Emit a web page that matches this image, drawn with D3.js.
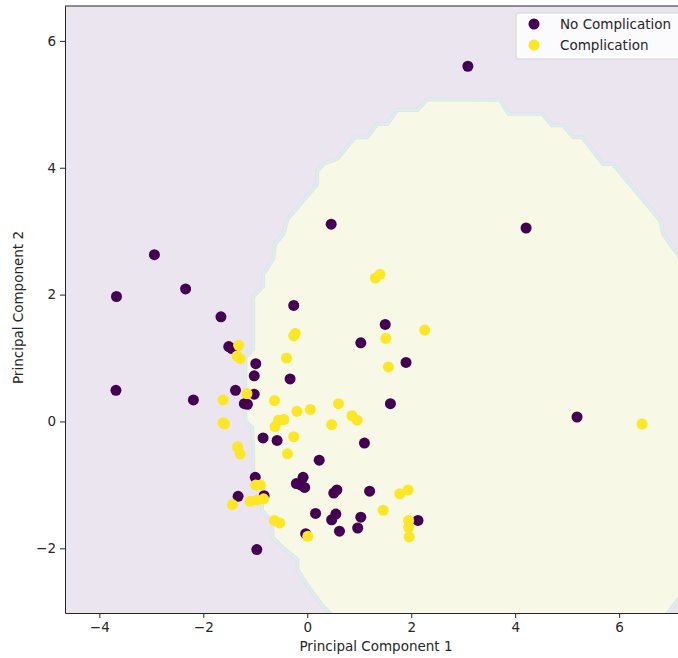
<!DOCTYPE html>
<html>
<head>
<meta charset="utf-8">
<script src="https://cdn.jsdelivr.net/npm/d3@7"></script>
<style>
  body { margin: 0; background: #fff; }
  svg { font-family: "DejaVu Sans", sans-serif; }
</style>
</head>
<body>
<svg id="chart" width="678" height="658"></svg>
<script>
// class 0 points (No Complication)
var noCompX = [3.09, 4.21, 0.46, -2.94, -3.67, -2.34, -1.66, -0.26, -3.68, -2.19,
  -1.51, -1.45, -0.99, -1.02, -1.38, -1.02, -1.21, -1.15, -0.33, -0.85,
  -0.58, 0.23, -0.08, -0.21, -0.13, -0.05, -1.00, -1.33, -0.83, -0.97,
  0.51, 0.57, 1.10, 1.20, 0.16, 0.47, 0.55, 0.62, 1.03, 0.97,
  -0.03, 2.13, 1.50, 1.03, 1.90, 1.60, 5.19];
var noCompY = [5.60, 3.05, 3.11, 2.63, 1.97, 2.09, 1.65, 1.83, 0.49, 0.34,
  1.18, 1.15, 0.91, 0.72, 0.49, 0.43, 0.28, 0.27, 0.67, -0.26,
  -0.30, -0.61, -0.88, -0.98, -1.00, -1.04, -0.88, -1.18, -1.17, -2.02,
  -1.13, -1.08, -0.34, -1.10, -1.45, -1.55, -1.46, -1.73, -1.51, -1.68,
  -1.77, -1.56, 1.53, 1.24, 0.93, 0.28, 0.07];

// class 1 points (Complication)
var compX = [1.31, 1.40, 2.26, 1.51, 1.56, 0.60, 0.86, 0.96, 1.78, 1.94,
  1.46, 1.95, 1.95, 1.96, 6.44, -0.26, -0.23, -1.32, -1.35, -1.29,
  -0.40, -1.16, -1.62, -0.63, -0.20, 0.06, -1.62, -1.59, -0.55, -0.45,
  -0.62, 0.47, -0.26, -1.34, -1.29, -0.38, -0.99, -0.90, -1.10, -0.97,
  -0.84, -1.44, -0.63, -0.53, 0.01];
var compY = [2.26, 2.32, 1.44, 1.31, 0.86, 0.28, 0.09, 0.02, -1.14, -1.08,
  -1.40, -1.56, -1.67, -1.82, -0.04, 1.35, 1.39, 1.20, 1.03, 0.99,
  1.00, 0.44, 0.34, 0.33, 0.16, 0.19, -0.02, -0.04, 0.02, 0.03,
  -0.08, -0.05, -0.24, -0.40, -0.51, -0.51, -1.00, -1.00, -1.26, -1.24,
  -1.22, -1.31, -1.56, -1.60, -1.81];

// decision region of class 1 (data units)
var regionX = [0.44, 0.31, 0.06, -0.10, -0.19, -0.19, -0.48, -0.67, -0.67, -0.87,
  -0.87, -1.04, -1.04, -1.06, -1.19, -1.19, -1.04, -1.04, -0.85, -0.85,
  -0.81, -0.65, -0.62, -0.46, -0.38, 0.19, 0.19, 0.31, 0.58, 0.92,
  1.15, 1.35, 1.54, 1.73, 2.12, 2.31, 3.71, 3.87, 4.52, 4.71,
  4.92, 5.12, 5.29, 5.69, 5.88, 6.79, 6.85, 7.13, 7.70, 7.70,
  6.94, 6.94, 0.44];
var regionY = [-3.02, -2.92, -2.65, -2.45, -2.34, -2.18, -1.98, -1.83, -1.59, -1.40,
  -1.04, -0.93, -0.46, -0.10, 0.01, 1.00, 1.14, 1.97, 2.13, 2.33,
  2.36, 2.57, 2.80, 2.95, 3.19, 3.74, 3.94, 4.06, 4.14, 4.48,
  4.48, 4.69, 4.69, 4.91, 4.91, 5.08, 5.07, 4.85, 4.85, 4.67,
  4.67, 4.48, 4.48, 4.06, 4.06, 3.17, 2.95, 2.63, 1.80, -2.20,
  -3.02, -3.40, -3.40];

var xTicks = [-4, -2, 0, 2, 4, 6];
var yTicks = [-2, 0, 2, 4, 6];
var seriesNames = ["No Complication", "Complication"];
var seriesColors = ["#440154", "#fde725"];

var svg = d3.select("#chart"),
    margin = {left: 65, top: 6},
    width = 629,
    height = 607,
    fontSize = "13.5px";

var x = d3.scaleLinear().domain([-4.66, 7.44]).range([0, width]);
var y = d3.scaleLinear().domain([-3.02, 6.55]).range([height, 0]);

var g = svg.append("g")
  .attr("transform", "translate(" + margin.left + "," + margin.top + ")");

g.append("clipPath").attr("id", "clip")
  .append("rect").attr("width", width).attr("height", height);

var plot = g.append("g").attr("clip-path", "url(#clip)");

plot.append("rect")
  .attr("width", width).attr("height", height)
  .attr("fill", "#ebe5ef");

var region = regionX.map(function(d, i) { return [d, regionY[i]]; });
var line = d3.line()
  .x(function(d) { return x(d[0]); })
  .y(function(d) { return y(d[1]); });

plot.append("path")
  .attr("d", line(region) + "Z")
  .attr("fill", "#f7f8e5")
  .attr("stroke", "#e2e3ee")
  .attr("stroke-width", 4);
plot.append("path")
  .attr("d", line(region) + "Z")
  .attr("fill", "none")
  .attr("stroke", "#dcefe9")
  .attr("stroke-width", 1.8);

var pts0 = noCompX.map(function(d, i) { return {x: d, y: noCompY[i]}; });
var pts1 = compX.map(function(d, i) { return {x: d, y: compY[i]}; });

plot.selectAll(".p0").data(pts0).enter().append("circle")
  .attr("class", "p0")
  .attr("cx", function(d) { return x(d.x); })
  .attr("cy", function(d) { return y(d.y); })
  .attr("r", 5.5)
  .attr("fill", seriesColors[0]);

plot.selectAll(".p1").data(pts1).enter().append("circle")
  .attr("class", "p1")
  .attr("cx", function(d) { return x(d.x); })
  .attr("cy", function(d) { return y(d.y); })
  .attr("r", 5.5)
  .attr("fill", seriesColors[1]);

// axes
var xAxis = g.append("g")
  .attr("transform", "translate(0," + height + ")")
  .call(d3.axisBottom(x).tickValues(xTicks).tickSize(5).tickPadding(4).tickSizeOuter(0));
var yAxis = g.append("g")
  .call(d3.axisLeft(y).tickValues(yTicks).tickSize(5).tickPadding(4).tickSizeOuter(0));

[xAxis, yAxis].forEach(function(a) {
  a.selectAll("text").attr("font-size", fontSize).attr("fill", "#262626")
    .attr("font-family", "DejaVu Sans, sans-serif");
  a.selectAll("line").attr("stroke", "#262626");
  a.select(".domain").attr("stroke", "#262626");
});

// top spine
g.append("line")
  .attr("x1", 0).attr("x2", width).attr("y1", 0).attr("y2", 0)
  .attr("stroke", "#262626");

svg.append("text")
  .attr("x", 376)
  .attr("y", 651)
  .attr("text-anchor", "middle")
  .attr("font-size", fontSize)
  .attr("fill", "#262626")
  .text("Principal Component 1");

svg.append("text")
  .attr("transform", "translate(23," + (margin.top + height / 2 - 2) + ") rotate(-90)")
  .attr("text-anchor", "middle")
  .attr("font-size", fontSize)
  .attr("fill", "#262626")
  .text("Principal Component 2");

// legend
var leg = svg.append("g").attr("transform", "translate(516,13)");
leg.append("rect")
  .attr("width", 176).attr("height", 46)
  .attr("rx", 3)
  .attr("fill", "#fff").attr("fill-opacity", 0.8)
  .attr("stroke", "#d6d6d6");
seriesNames.forEach(function(name, i) {
  leg.append("circle")
    .attr("cx", 18).attr("cy", 11 + i * 21)
    .attr("r", 5.5)
    .attr("fill", seriesColors[i]);
  leg.append("text")
    .attr("x", 44).attr("y", 16 + i * 21)
    .attr("font-size", fontSize)
    .attr("fill", "#262626")
    .text(name);
});
</script>
</body>
</html>
